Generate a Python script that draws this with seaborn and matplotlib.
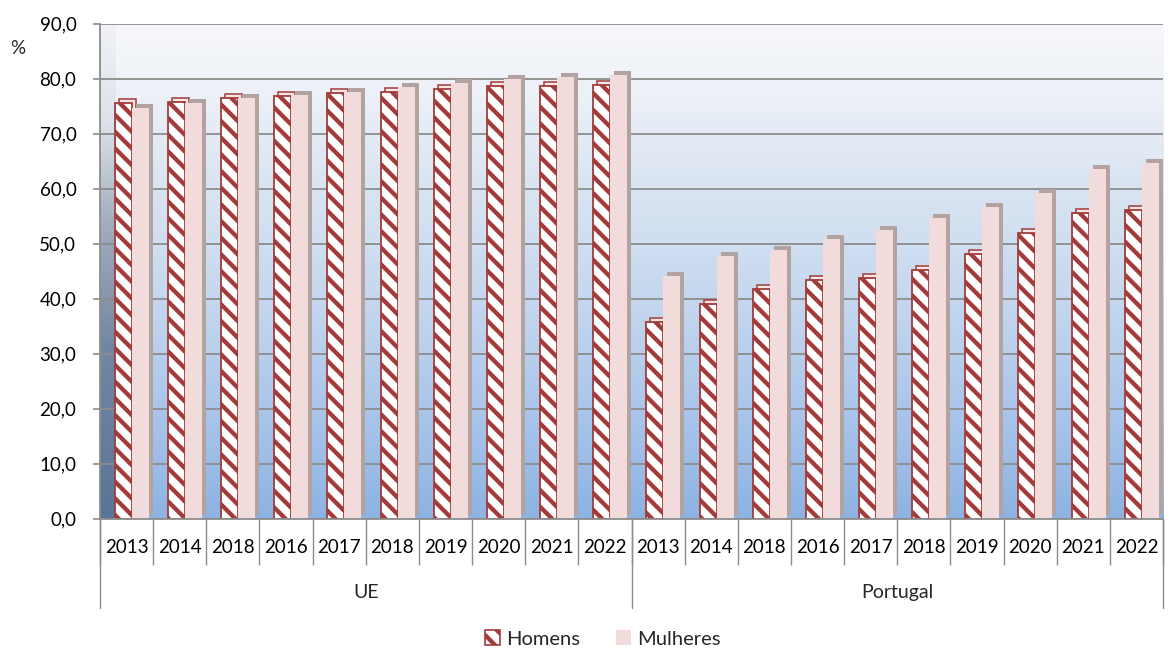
import numpy as np
import pandas as pd
import matplotlib
matplotlib.use("Agg")
import matplotlib.pyplot as plt
import seaborn as sns
from matplotlib.patches import Rectangle, Patch
from matplotlib.transforms import ScaledTranslation, blended_transform_factory
from matplotlib.colors import LinearSegmentedColormap
from matplotlib.ticker import FuncFormatter

# ---- data -------------------------------------------------------------
years = ["2013", "2014", "2018", "2016", "2017", "2018", "2019", "2020", "2021", "2022"]
regions = ["UE", "Portugal"]
series = ["Homens", "Mulheres"]

homens_ue = [75.5, 75.7, 76.5, 76.8, 77.4, 77.5, 78.1, 78.6, 78.6, 78.8]
mulheres_ue = [74.6, 75.5, 76.5, 77.0, 77.5, 78.5, 79.2, 79.9, 80.3, 80.6]
homens_pt = [35.7, 39.0, 41.7, 43.4, 43.7, 45.2, 48.1, 52.0, 55.5, 56.1]
mulheres_pt = [44.1, 47.7, 48.8, 50.8, 52.5, 54.6, 56.6, 59.2, 63.5, 64.6]

y_ticks = list(range(0, 91, 10))

# ---- long table -------------------------------------------------------
rows = []
order = []
values = {"UE": (homens_ue, mulheres_ue), "Portugal": (homens_pt, mulheres_pt)}
for reg in regions:
    h_vals, m_vals = values[reg]
    for i, yr in enumerate(years):
        slot = f"{reg}|{i}"
        order.append(slot)
        rows.append({"slot": slot, "sexo": "Homens", "valor": h_vals[i]})
        rows.append({"slot": slot, "sexo": "Mulheres", "valor": m_vals[i]})
df = pd.DataFrame(rows)

# ---- style ------------------------------------------------------------
sns.set_theme(style="white")
plt.rcParams["font.family"] = ["Lato", "DejaVu Sans"]
plt.rcParams["hatch.linewidth"] = 3.1

RED = "#A23B3A"
PINK = "#F2DCDB"
PINK_DEPTH = "#B2A3A1"
GRID = "#8C8C8C"
FS = 13.5

fig = plt.figure(figsize=(11.75, 6.48), dpi=100)
ax = fig.add_axes([0.0851, 0.1998, 0.9047, 0.7639])

sns.barplot(data=df, x="slot", y="valor", hue="sexo", order=order,
            hue_order=series, palette={"Homens": "white", "Mulheres": PINK},
            width=0.64, saturation=1, legend=False, ax=ax)

# pairs sit slightly right of the slot centre, as in a perspective view
shift = 0.1
for cont in ax.containers[:2]:
    for p in cont:
        p.set_x(p.get_x() + shift)

# hatched men bars
for p in ax.containers[0]:
    p.set_facecolor("white")
    p.set_edgecolor(RED)
    p.set_linewidth(1.3)
    p.set_hatch("\\\\")
for p in ax.containers[1]:
    p.set_edgecolor("none")

# depth faces behind each bar
off = ScaledTranslation(4 / 100, 4 / 100, fig.dpi_scale_trans)
for k, cont in enumerate(ax.containers[:2]):
    for p in cont:
        x0, y0 = p.get_xy()
        if k == 0:
            kw = dict(facecolor="#F4E6E5", edgecolor=RED, lw=1.1)
        else:
            kw = dict(facecolor=PINK_DEPTH, edgecolor="none")
        sh = Rectangle((x0, y0), p.get_width(), p.get_height(),
                       transform=ax.transData + off, zorder=p.get_zorder() - 0.05, **kw)
        ax.add_patch(sh)

# wall gradient
wall = LinearSegmentedColormap.from_list(
    "wall", [(0.0, "#8DB3E2"), (0.2, "#A8C4EA"), (0.45, "#C6D8EF"),
             (0.7, "#DCE6F2"), (0.85, "#ECF0F7"), (1.0, "#F7F8FB")])
grad = np.linspace(0, 1, 256).reshape(-1, 1)
ax.imshow(grad, cmap=wall, extent=[0, 1, 0, 1], transform=ax.transAxes,
          aspect="auto", origin="lower", zorder=0)
side = LinearSegmentedColormap.from_list(
    "side", [(0.0, "#5A7497"), (0.35, "#7487A2"), (0.6, "#A3AEBD"),
             (0.8, "#DDE2EA"), (1.0, "#F0F2F6")])
ax.imshow(grad, cmap=side, extent=[0, 15 / 1063, 0, 1], transform=ax.transAxes,
          aspect="auto", origin="lower", zorder=0.1)

ax.set_xlim(-0.5, len(order) - 0.5)
ax.set_ylim(0, 90)

# grid and spines
ax.set_yticks(y_ticks)
ax.yaxis.set_major_formatter(FuncFormatter(lambda v, _: f"{v:.1f}".replace(".", ",")))
ax.yaxis.grid(True, color=GRID, lw=1.3)
ax.set_axisbelow(True)
for s in ["top", "right"]:
    ax.spines[s].set_visible(False)
for s in ["left", "bottom"]:
    ax.spines[s].set_color(GRID)
    ax.spines[s].set_linewidth(1.3)
ax.tick_params(axis="y", length=5, width=1.2, color=GRID, pad=12, labelsize=FS,
               left=True, labelcolor="black")

ax.set_xticks(range(len(order)))
ax.set_xticklabels(years * len(regions))
ax.set_xticks(np.arange(-0.5, len(order), 1), minor=True)
ax.tick_params(axis="x", which="major", length=0, pad=15, labelsize=FS, labelcolor="black")
ax.tick_params(axis="x", which="minor", length=33, width=1.0, color=GRID, bottom=True)
ax.set_xlabel("")
ax.set_ylabel("")

# region separators and names
bt = blended_transform_factory(ax.transData, ax.transAxes)
bounds = [-0.5]
for reg in regions:
    bounds.append(bounds[-1] + len(years))
for b in bounds:
    ax.plot([b, b], [0, -0.18], transform=bt, clip_on=False, color=GRID, lw=1.0)
for i, reg in enumerate(regions):
    ax.text((bounds[i] + bounds[i + 1]) / 2, -0.149, reg, transform=bt,
            ha="center", va="center", fontsize=14)

fig.text(18 / 1175, 1 - 48 / 648, "%", ha="center", va="center", fontsize=FS)

handles = [Patch(facecolor="white", edgecolor=RED, hatch="\\\\", lw=1.2),
           Patch(facecolor=PINK, edgecolor="none")]
fig.legend(handles, series, loc="center", bbox_to_anchor=(603 / 1175, 1 - 639 / 648),
           ncol=2, frameon=False, fontsize=14.5, handlelength=0.75, handleheight=0.75,
           handletextpad=0.3, columnspacing=1.8)

fig.savefig("out.png", dpi=100)
